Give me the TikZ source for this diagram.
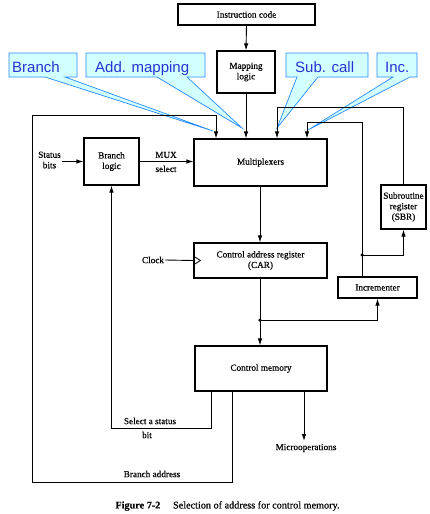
\documentclass[tikz,border=0pt]{standalone}
\usepackage{fontspec}
\setmainfont{Liberation Serif}[FakeBold=0.4]
\newfontfamily\calloutfont{Liberation Sans}
\usetikzlibrary{arrows.meta,calc}
\definecolor{cofill}{RGB}{210,255,255}
\definecolor{coline}{RGB}{40,140,255}
\definecolor{cotext}{RGB}{40,50,210}
\begin{document}
\begin{tikzpicture}[x=1pt,y=-1pt,
  blk/.style={draw,line width=1.2pt,inner sep=0pt,align=center,font=\fontsize{9.2}{10.5}\selectfont},
  lbl/.style={inner sep=1pt,align=center,font=\fontsize{9.2}{10.5}\selectfont},
  con/.style={line width=0.9pt},
  arr/.style={con,-{Latex[length=7pt,width=4.5pt]}},
  callout/.style={draw=coline,fill=cofill,line width=0.7pt},
  cotxt/.style={inner sep=0pt,anchor=base west,text=cotext,font=\calloutfont\fontsize{15}{17}\selectfont},
  jdot/.style={circle,fill,inner sep=0pt,minimum size=3.5pt}]
\useasboundingbox (0,0) rectangle (429,514);
\fill[white] (0,0) rectangle (429,514);

% callouts (behind the diagram)
\draw[callout] (9,53) -- (77,53) -- (77,77) -- (65,77) -- (213,131) -- (45,77) -- (9,77) -- cycle;
\node[cotxt] (cbranch) at (12,72) {Branch};
\draw[callout] (86,53) -- (205,53) -- (205,77) -- (187,77) -- (242,128) -- (157,77) -- (86,77) -- cycle;
\node[cotxt] (cmap) at (95,72) {Add. mapping};
\draw[callout] (286,53) -- (368,53) -- (368,77) -- (318,77) -- (277,128) -- (297,77) -- (286,77) -- cycle;
\node[cotxt] (csub) at (295,72) {Sub. call};
\draw[callout] (377,53) -- (417,53) -- (417,77) -- (410,77) -- (308,130) -- (393,77) -- (377,77) -- cycle;
\node[cotxt] (cinc) at (385,72) {Inc.};

% blocks
\node[blk,minimum width=137,minimum height=21] (instr) at (246.5,14.5) {Instruction code};
\node[blk,minimum width=58,minimum height=42] (map) at (246,72) {Mapping\\logic};
\node[blk,minimum width=133,minimum height=47] (mux) at (260.5,162.5) {Multiplexers};
\node[blk,minimum width=55,minimum height=47] (bl) at (111.5,161.5) {Branch\\logic};
\node[blk,minimum width=133,minimum height=35] (car) at (260.5,260.5) {Control address register\\(CAR)};
\node[blk,minimum width=45,minimum height=44] (sbr) at (403.5,207) {Subroutine\\register\\(SBR)};
\node[blk,minimum width=79,minimum height=21] (inc) at (377.5,287.5) {Incrementer};
\node[blk,minimum width=132,minimum height=45] (cm) at (261,368.5) {Control memory};

% labels
\node[lbl] (status) at (49.5,160) {Status\\bits};
\node[lbl,font=\fontsize{9.2}{14}\selectfont] (muxsel) at (166,162) {MUX\\select};
\node[lbl] (clock) at (153,260) {Clock};
\node[lbl] (selst) at (150,421) {Select a status};
\node[lbl] (bit) at (147,435) {bit};
\node[lbl] (baddr) at (152,474) {Branch address};
\node[lbl] (micro) at (306,448) {Microoperations};
\node[lbl,font=\fontsize{10.2}{12}\selectfont] (cap) at (227.5,506) {\textbf{Figure 7-2}\quad\ Selection of address for control memory.};

% coordinates
\coordinate (j1) at (260,320);
\coordinate (j2) at (362,255);
\coordinate (m1) at (216,115);
\coordinate (m2) at (277,107);
\coordinate (m3) at (307,122);
\coordinate (ba) at (232,482);
\coordinate (lft) at (32,482);
\coordinate (sb) at (211,428);
\coordinate (mo) at (304,441);

% connectors
\draw[arr] (instr.south) -- (map.north);
\draw[arr] (map.south) -- (map.south |- mux.north);
\draw[arr] (mux.south -| j1) -- (car.north -| j1);
\draw[con] (car.south -| j1) -- (j1);
\draw[arr] (j1) -- (cm.north -| j1);
\draw[arr] (j1) -| (inc.south);
\draw[arr] (inc.north -| j2) -- (m3 -| j2) -- (m3) -- (m3 |- mux.north);
\draw[arr] (j2) -| (sbr.south);
\draw[arr] (sbr.north) |- (m2) -- (m2 |- mux.north);
\draw[arr] (ba |- cm.south) -- (ba) -- (lft) |- (m1) -- (m1 |- mux.north);
\draw[arr] (sb |- cm.south) -- (sb) -| (bl.south);
\draw[arr] (mo |- cm.south) -- (mo);
\draw[arr] (status.east |- bl.west) -- (bl.west);
\draw[arr] (bl.east) -- (bl.east -| mux.west);
\draw[con] (clock.east) -- (car.west);
\draw[line width=0.8pt] (car.west) ++(0,-4.5) -- ++(7,4.5) -- ++(-7,4.5);
\node[jdot] (d1) at (j1) {};
\node[jdot] (d2) at (j2) {};
\end{tikzpicture}
\end{document}
